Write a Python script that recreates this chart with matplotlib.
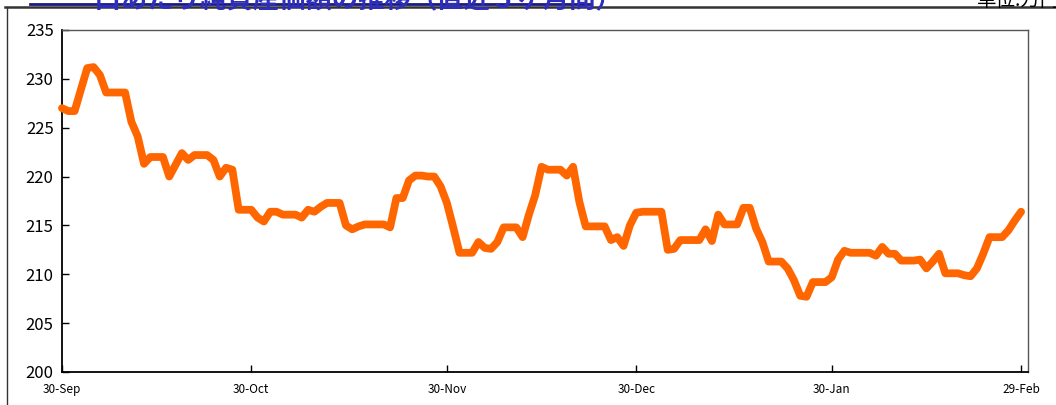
import datetime as dt

import matplotlib

matplotlib.use("Agg")
import matplotlib.dates as mdates
import matplotlib.pyplot as plt
from matplotlib.lines import Line2D

plt.rcParams["font.family"] = ["Noto Sans CJK JP", "DejaVu Sans"]

START = dt.date(2023, 9, 30)

# daily NAV per unit (one value per calendar day from 30-Sep)
nav = [
    227.0, 226.7, 226.7, 228.9, 231.1, 231.2, 230.4, 228.6, 228.6, 228.6,
    228.6, 225.6, 224.1, 221.3, 222.0, 222.0, 222.0, 220.0, 221.2, 222.4,
    221.7, 222.2, 222.2, 222.2, 221.7, 220.0, 220.9, 220.7, 216.6, 216.6,
    216.6, 215.8, 215.4, 216.4, 216.4, 216.1, 216.1, 216.1, 215.8, 216.6,
    216.4, 216.9, 217.3, 217.3, 217.3, 215.0, 214.6, 214.9, 215.1, 215.1,
    215.1, 215.1, 214.8, 217.8, 217.8, 219.6, 220.1, 220.1, 220.0, 220.0,
    219.0, 217.3, 214.8, 212.2, 212.2, 212.2, 213.3, 212.7, 212.6, 213.3,
    214.8, 214.8, 214.8, 213.8, 216.1, 218.1, 221.0, 220.7, 220.7, 220.7,
    220.1, 221.0, 217.4, 214.9, 214.9, 214.9, 214.9, 213.5, 213.8, 212.9,
    215.0, 216.3, 216.4, 216.4, 216.4, 216.4, 212.5, 212.6, 213.5, 213.5,
    213.5, 213.5, 214.6, 213.4, 216.1, 215.1, 215.1, 215.1, 216.8, 216.8,
    214.7, 213.3, 211.3, 211.3, 211.3, 210.6, 209.4, 207.8, 207.7, 209.2,
    209.2, 209.2, 209.7, 211.5, 212.4, 212.2, 212.2, 212.2, 212.2, 211.9,
    212.8, 212.1, 212.1, 211.4, 211.4, 211.4, 211.5, 210.6, 211.3, 212.1,
    210.1, 210.1, 210.1, 209.9, 209.8, 210.6, 212.1, 213.8, 213.8, 213.8,
    214.5, 215.5, 216.4,
]
dates = [START + dt.timedelta(days=i) for i in range(len(nav))]

tick_dates = [
    dt.date(2023, 9, 30), dt.date(2023, 10, 30), dt.date(2023, 11, 30),
    dt.date(2023, 12, 30), dt.date(2024, 1, 30), dt.date(2024, 2, 29),
]
tick_labels = ["30-Sep", "30-Oct", "30-Nov", "30-Dec", "30-Jan", "29-Feb"]
y_ticks = [200, 205, 210, 215, 220, 225, 230, 235]

TITLE = "一口あたり純資産価額の推移（直近５ヶ月間）"
UNIT = "単位:万円"

fig = plt.figure(figsize=(10.56, 4.05), dpi=100)
ax = fig.add_axes([0.0587, 0.0815, 0.9148, 0.8445])

ax.plot(dates, nav, color="#FF6600", linewidth=5.6, solid_joinstyle="round",
        solid_capstyle="round", clip_on=False, zorder=3)

ax.set_xlim(mdates.date2num(START), mdates.date2num(START) + 153.1)
ax.set_ylim(200, 235)
ax.set_yticks(y_ticks)
ax.set_yticklabels([str(v) for v in y_ticks], fontsize=12)
ax.set_xticks(mdates.date2num(tick_dates))
ax.set_xticklabels(tick_labels, fontsize=8.5)
ax.tick_params(axis="both", direction="in", length=5, width=1, colors="black")
ax.tick_params(axis="y", pad=6)
ax.tick_params(axis="x", pad=8)
for side in ("left", "bottom"):
    ax.spines[side].set_linewidth(1.3)
    ax.spines[side].set_color("black")
for side in ("top", "right"):
    ax.spines[side].set_linewidth(1.0)
    ax.spines[side].set_color("#555555")

# outer frame of the sheet
fig.add_artist(Line2D([0.005, 1.0], [1 - 7 / 405, 1 - 7 / 405], color="#333333", lw=1.8))
fig.add_artist(Line2D([7 / 1056, 7 / 1056], [0.0, 1 - 7 / 405], color="#333333", lw=1.0))

# title (cut off at the top edge, as in the source sheet) with underline
fig.text(345 / 1056, 1 - 1 / 405, TITLE, color="#2E2EB8", fontsize=19,
         fontweight="bold", ha="center", va="center")
fig.add_artist(Line2D([30 / 1056, 590 / 1056], [1 - 4 / 405, 1 - 4 / 405],
                      color="#1A1A80", lw=2.0))
fig.text(1060 / 1056, 1 - 1 / 405, UNIT, color="black", fontsize=14,
         ha="right", va="center")

fig.savefig("out.png", dpi=100)
